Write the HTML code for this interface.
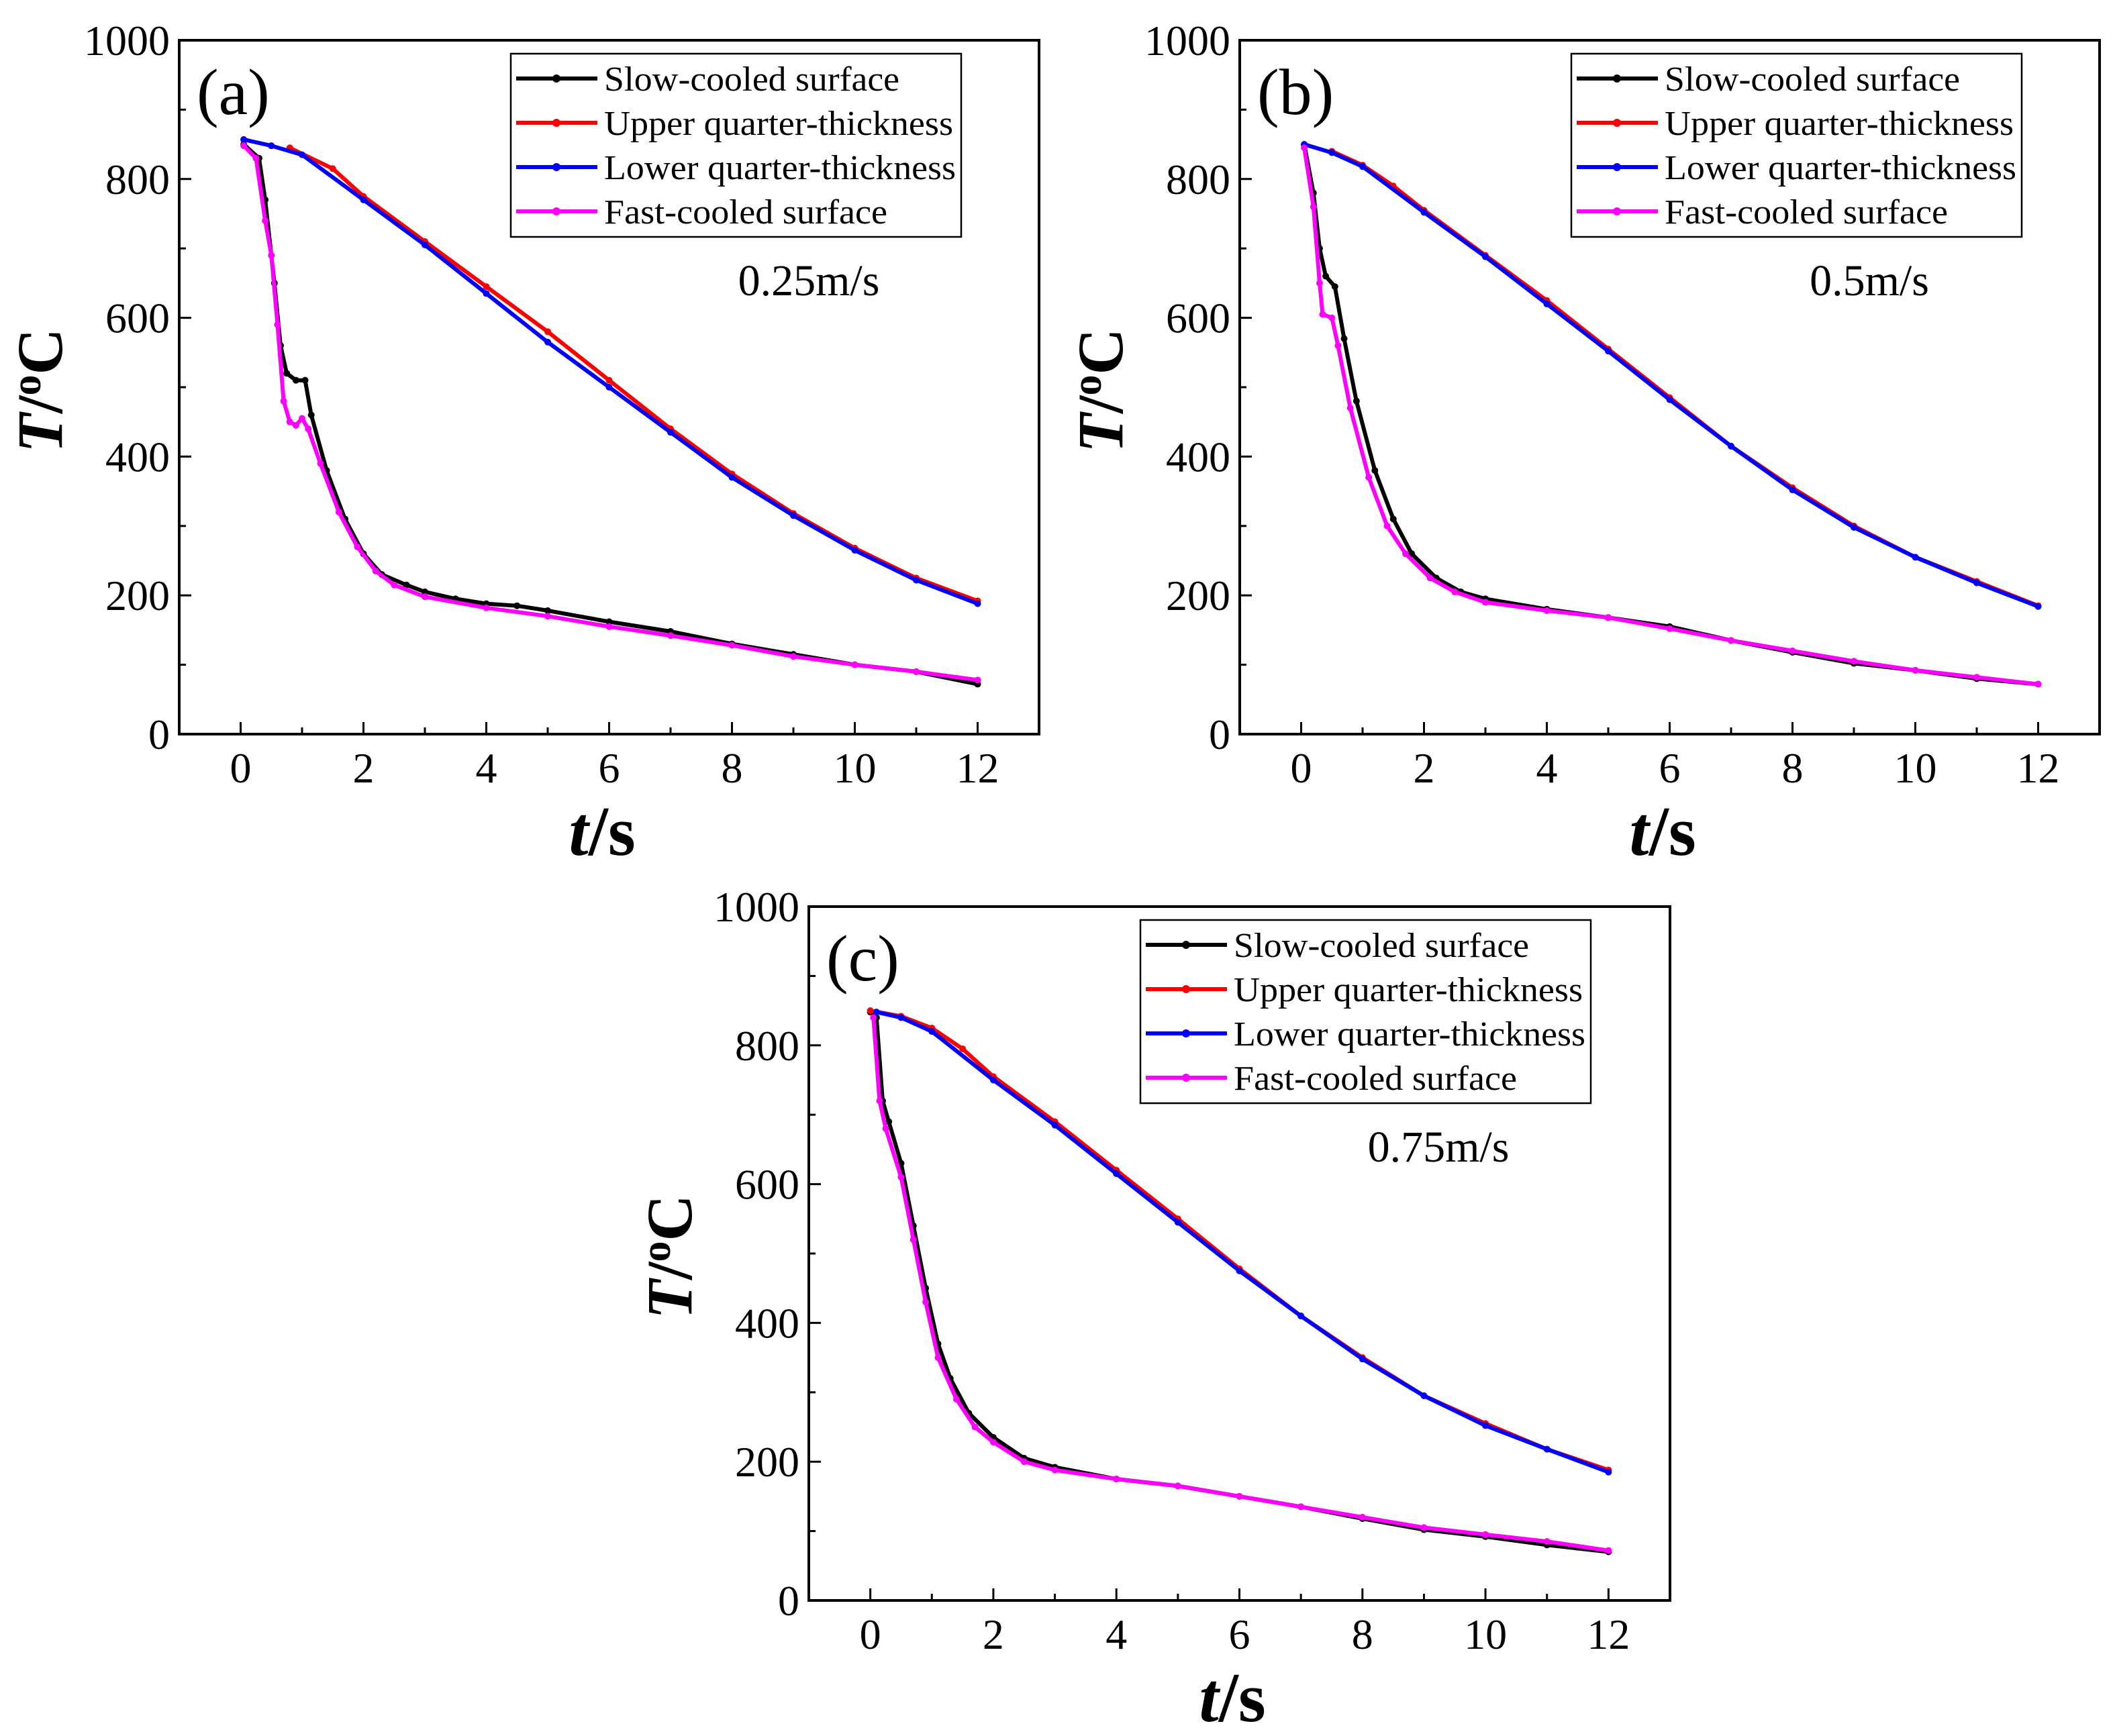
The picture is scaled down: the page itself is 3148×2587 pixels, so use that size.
<!DOCTYPE html>
<html><head><meta charset="utf-8">
<style>
html,body{margin:0;padding:0;background:#fff;}
svg{display:block;font-family:"Liberation Serif",serif;}
</style></head>
<body>
<svg id="fig" width="3148" height="2587" viewBox="0 0 3148 2587" xmlns="http://www.w3.org/2000/svg"></svg>
<script>
// ---- data ----
const xTicks = [0,2,4,6,8,10,12];
const yTicks = [0,200,400,600,800,1000];
const seriesNames = ["Slow-cooled surface","Upper quarter-thickness","Lower quarter-thickness","Fast-cooled surface"];
const seriesColors = ["#000000","#ff0000","#0000ff","#ff00ff"];
const speedLabels = ["0.25m/s","0.5m/s","0.75m/s"];
const panelLabels = ["(a)","(b)","(c)"];

const aSlowT = [0.05,0.3,0.4,0.55,0.65,0.75,0.9,1.05,1.15,1.4,1.7,2.0,2.3,2.7,3,3.5,4,4.5,5,6,7,8,9,10,11,12];
const aSlowV = [850,830,770,650,560,520,510,510,460,380,310,260,230,215,205,195,188,185,178,162,148,130,115,100,90,72];
const aUpT = [0.8,1.5,2,3,4,5,6,7,8,9,10,11,12];
const aUpV = [845,815,775,710,645,580,510,440,375,318,268,225,192];
const aLowT = [0.05,0.5,1,2,3,4,5,6,7,8,9,10,11,12];
const aLowV = [857,848,835,770,705,635,565,500,435,370,315,265,222,188];
const aFastT = [0.05,0.25,0.4,0.5,0.6,0.7,0.8,0.9,1.0,1.1,1.3,1.6,1.9,2.2,2.5,3,4,5,6,7,8,9,10,11,12];
const aFastV = [848,830,740,690,590,480,450,445,455,440,390,320,270,235,215,198,182,170,155,142,128,112,100,90,78];

const bSlowT = [0.05,0.2,0.3,0.4,0.55,0.7,0.9,1.2,1.5,1.8,2.2,2.6,3,4,5,6,7,8,9,10,11,12];
const bSlowV = [850,780,700,660,645,570,480,380,310,260,225,205,195,180,168,155,135,118,102,92,80,72];
const bUpT = [0.5,1,1.5,2,3,4,5,6,7,8,9,10,11,12];
const bUpV = [840,820,790,755,690,625,555,485,415,355,300,255,220,185];
const bLowT = [0.05,0.5,1,2,3,4,5,6,7,8,9,10,11,12];
const bLowV = [850,838,818,752,688,620,552,482,415,352,298,255,218,184];
const bFastT = [0.05,0.2,0.3,0.35,0.5,0.6,0.8,1.1,1.4,1.7,2.1,2.5,3,4,5,6,7,8,9,10,11,12];
const bFastV = [845,760,650,605,600,560,470,370,300,260,225,205,190,178,168,152,135,120,105,92,82,72];

const cSlowT = [0.0,0.1,0.2,0.3,0.5,0.7,0.9,1.1,1.3,1.6,2,2.5,3,4,5,6,7,8,9,10,11,12];
const cSlowV = [848,840,720,690,630,540,450,370,320,270,235,205,192,175,165,150,135,118,102,92,80,70];
const cUpT = [0,0.5,1,1.5,2,3,4,5,6,7,8,9,10,11,12];
const cUpV = [850,842,825,795,755,690,620,550,478,410,350,295,255,218,188];
const cLowT = [0.1,0.5,1,2,3,4,5,6,7,8,9,10,11,12];
const cLowV = [848,840,820,750,685,615,545,475,410,348,295,252,218,185];
const cFastT = [0.05,0.15,0.25,0.5,0.7,0.9,1.1,1.4,1.7,2,2.5,3,4,5,6,7,8,9,10,11,12];
const cFastV = [840,720,680,610,520,430,350,290,250,228,200,188,175,165,150,135,120,105,95,85,72];

// ---- layout ----
const NS = "http://www.w3.org/2000/svg";
const svg = document.getElementById('fig');
function mk(tag, attrs, parent){
  const e = document.createElementNS(NS, tag);
  for (const k in attrs) e.setAttribute(k, attrs[k]);
  (parent||svg).appendChild(e);
  return e;
}
const panels = [
  {L:267,R:1548,T:60,B:1094, data:[[aSlowT,aSlowV],[aUpT,aUpV],[aLowT,aLowV],[aFastT,aFastV]], name:'a'},
  {L:1847,R:3128,T:60,B:1094, data:[[bSlowT,bSlowV],[bUpT,bUpV],[bLowT,bLowV],[bFastT,bFastV]], name:'b'},
  {L:1205,R:2488,T:1351,B:2385, data:[[cSlowT,cSlowV],[cUpT,cUpV],[cLowT,cLowV],[cFastT,cFastV]], name:'c'}
];
panels.forEach((p, pi) => {
  const g = mk('g', {});
  
  
  const xs = v => p.L + (v + 1) / 14 * (p.R - p.L);
  const ys = v => p.B - v / 1000 * (p.B - p.T);
  p.data.forEach((s, si) => {
    const pts = s[0].map((t, i) => xs(t).toFixed(1) + ',' + ys(s[1][i]).toFixed(1)).join(' ');
    const pl = mk('polyline', {points: pts, fill: 'none', stroke: seriesColors[si], 'stroke-width': 6, 'stroke-linejoin': 'round'}, g);
    
    
    s[0].forEach((t, i) => {
      const c = mk('circle', {cx: xs(t), cy: ys(s[1][i]), r: 5, fill: seriesColors[si]}, g);
      
      
    });
  });
  const fr = mk('rect', {x: p.L, y: p.T, width: p.R - p.L, height: p.B - p.T, fill: 'none', stroke: '#000', 'stroke-width': 4}, g);
  
  
  for (let v = -1; v <= 13; v++) {
    const major = xTicks.includes(v);
    mk('line', {x1: xs(v), x2: xs(v), y1: p.B, y2: p.B - (major ? 18 : 10), stroke: '#000', 'stroke-width': 3}, g);
  }
  xTicks.forEach(v => {
    const t = mk('text', {x: xs(v), y: p.B + 72, 'font-size': 64, 'text-anchor': 'middle'}, g);
    t.textContent = v;
    
    
  });
  for (let v = 100; v < 1000; v += 100) {
    const major = yTicks.includes(v);
    mk('line', {x1: p.L, x2: p.L + (major ? 18 : 10), y1: ys(v), y2: ys(v), stroke: '#000', 'stroke-width': 3}, g);
  }
  yTicks.forEach(v => {
    const t = mk('text', {x: p.L - 14, y: ys(v) + 22, 'font-size': 64, 'text-anchor': 'end'}, g);
    t.textContent = v;
    
    
  });
  const xt = mk('text', {x: (p.L + p.R) / 2 - 60, y: p.B + 180, 'font-size': 105, 'font-weight': 'bold'}, g);
  xt.innerHTML = '<tspan font-style="italic">t</tspan>/s';
  
  
  const yc = (p.T + p.B) / 2 + 5;
  const yt = mk('text', {x: 0, y: 0, 'font-size': 96, 'font-weight': 'bold', 'text-anchor': 'middle', transform: 'translate(' + (p.L - 175) + ',' + yc + ') rotate(-90)'}, g);
  yt.innerHTML = '<tspan font-style="italic">T</tspan>/<tspan font-size="62" dy="-32">o</tspan><tspan dy="32">C</tspan>';
  
  
  const pl = mk('text', {x: p.L + 26, y: p.T + 110, 'font-size': 98}, g);
  pl.textContent = panelLabels[pi];
  
  
  const sp = mk('text', {x: p.L + 938, y: p.T + 380, 'font-size': 66, 'text-anchor': 'middle'}, g);
  sp.textContent = speedLabels[pi];
  
  
  const lg = mk('g', {}, g);
  
  
  const lx = p.L + 494, ly = p.T + 20;
  mk('rect', {x: lx, y: ly, width: 671, height: 273, fill: '#fff', stroke: '#000', 'stroke-width': 2.5}, lg);
  seriesNames.forEach((n, i) => {
    const ry = ly + 37 + i * 66;
    const ent = mk('g', {}, lg);
    
    
    mk('line', {x1: lx + 8, x2: lx + 129, y1: ry, y2: ry, stroke: seriesColors[i], 'stroke-width': 6}, ent);
    mk('circle', {cx: lx + 68, cy: ry, r: 6, fill: seriesColors[i]}, ent);
    const t = mk('text', {x: lx + 139, y: ry + 18, 'font-size': 52, textLength: 520, lengthAdjust: 'spacingAndGlyphs'}, ent);
    t.textContent = n;
    if (i === 0) t.setAttribute('textLength', 440);
    if (i === 3) t.setAttribute('textLength', 422);
    if (i === 2) t.setAttribute('textLength', 524);
  });
});
</script>
</body></html>
